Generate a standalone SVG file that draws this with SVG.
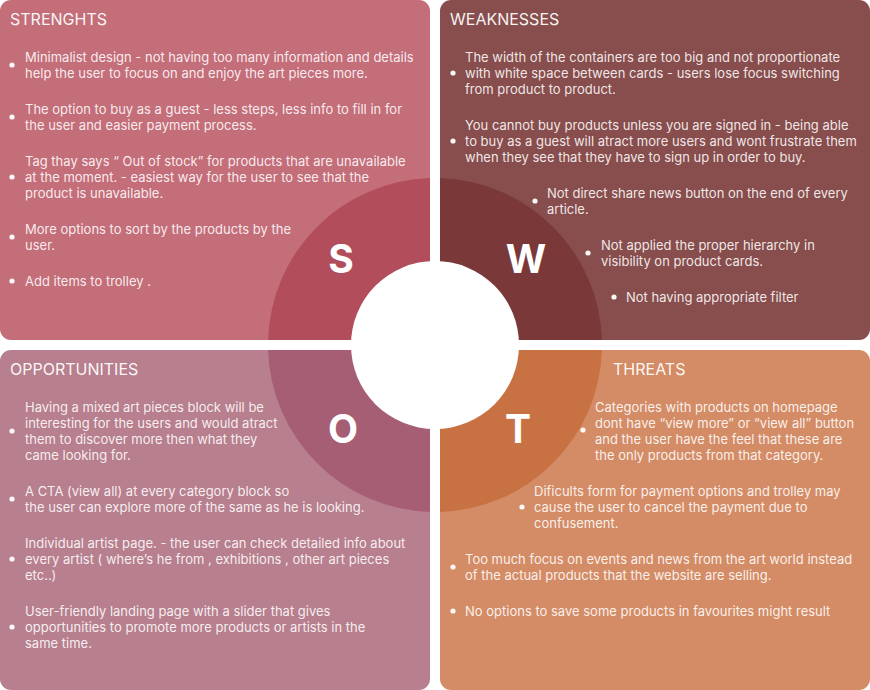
<svg xmlns="http://www.w3.org/2000/svg" width="870" height="690" viewBox="0 0 870 690">
<style>
text{font-family:Inter,"Noto Sans","Liberation Sans",sans-serif;fill:#ffffff;}
.h{font-size:16px;fill-opacity:0.95;}
.t{font-size:13px;fill-opacity:0.88;}
.dot{fill:#ffffff;fill-opacity:0.95;}
.L{font-size:39px;font-weight:700;text-anchor:middle;}
</style>
<rect width="870" height="690" fill="#ffffff"/>
<g id="strengths">
<rect x="0" y="0" width="430" height="340" rx="11" fill="#c46e7a"/>
<path d="M268.08,340 A167,167 0 0 1 430,178.08 L430,340 Z" fill="#b24d5c"/>
<text class="h" x="10" y="25">STRENGHTS</text>
<circle class="dot" cx="12" cy="65" r="2.6"/>
<text class="t" x="25" y="62">Minimalist design - not having too many information and details</text>
<text class="t" x="25" y="78">help the user to focus on and enjoy the art pieces more.</text>
<circle class="dot" cx="12" cy="117" r="2.6"/>
<text class="t" x="25" y="114">The option to buy as a guest - less steps, less info to fill in for</text>
<text class="t" x="25" y="130">the user and easier payment process.</text>
<circle class="dot" cx="12" cy="177" r="2.6"/>
<text class="t" x="25" y="166">Tag thay says “ Out of stock” for products that are unavailable</text>
<text class="t" x="25" y="182">at the moment. - easiest way for the user to see that the</text>
<text class="t" x="25" y="198">product is unavailable.</text>
<circle class="dot" cx="12" cy="237" r="2.6"/>
<text class="t" x="25" y="234">More options to sort by the products by the</text>
<text class="t" x="25" y="250">user.</text>
<circle class="dot" cx="12" cy="281" r="2.6"/>
<text class="t" x="25" y="286">Add items to trolley .</text>
<text class="L" x="341" y="273">S</text>
</g>
<g id="weaknesses">
<rect x="440" y="0" width="430" height="340" rx="11" fill="#884e4d"/>
<path d="M440,178.08 A167,167 0 0 1 601.92,340 L440,340 Z" fill="#7a3838"/>
<text class="h" x="450" y="25">WEAKNESSES</text>
<circle class="dot" cx="453" cy="73" r="2.6"/>
<text class="t" x="465" y="62">The width of the containers are too big and not proportionate</text>
<text class="t" x="465" y="78">with white space between cards - users lose focus switching</text>
<text class="t" x="465" y="94">from product to product.</text>
<circle class="dot" cx="453" cy="141" r="2.6"/>
<text class="t" x="465" y="130">You cannot buy products unless you are signed in - being able</text>
<text class="t" x="465" y="146">to buy as a guest will atract more users and wont frustrate them</text>
<text class="t" x="465" y="162">when they see that they have to sign up in order to buy.</text>
<circle class="dot" cx="535" cy="201" r="2.6"/>
<text class="t" x="547" y="198">Not direct share news button on the end of every</text>
<text class="t" x="547" y="214">article.</text>
<circle class="dot" cx="588" cy="253" r="2.6"/>
<text class="t" x="601" y="250">Not applied the proper hierarchy in</text>
<text class="t" x="601" y="266">visibility on product cards.</text>
<circle class="dot" cx="614" cy="297" r="2.6"/>
<text class="t" x="626" y="302">Not having appropriate filter</text>
<text class="L" x="526" y="273">W</text>
</g>
<g id="opportunities">
<rect x="0" y="350" width="430" height="340" rx="11" fill="#b87f8e"/>
<path d="M430,511.92 A167,167 0 0 1 268.08,350 L430,350 Z" fill="#a65e75"/>
<text class="h" x="10" y="375">OPPORTUNITIES</text>
<circle class="dot" cx="12" cy="431" r="2.6"/>
<text class="t" x="25" y="412">Having a mixed art pieces block will be</text>
<text class="t" x="25" y="428">interesting for the users and would atract</text>
<text class="t" x="25" y="444">them to discover more then what they</text>
<text class="t" x="25" y="460">came looking for.</text>
<circle class="dot" cx="12" cy="499" r="2.6"/>
<text class="t" x="25" y="496">A CTA (view all) at every category block so</text>
<text class="t" x="25" y="512">the user can explore more of the same as he is looking.</text>
<circle class="dot" cx="12" cy="559" r="2.6"/>
<text class="t" x="25" y="548">Individual artist page. - the user can check detailed info about</text>
<text class="t" x="25" y="564">every artist ( where’s he from , exhibitions , other art pieces</text>
<text class="t" x="25" y="580">etc..)</text>
<circle class="dot" cx="12" cy="627" r="2.6"/>
<text class="t" x="25" y="616">User-friendly landing page with a slider that gives</text>
<text class="t" x="25" y="632">opportunities to promote more products or artists in the</text>
<text class="t" x="25" y="648">same time.</text>
<text class="L" x="343" y="443">O</text>
</g>
<g id="threats">
<rect x="440" y="350" width="430" height="340" rx="11" fill="#d48c66"/>
<path d="M601.92,350 A167,167 0 0 1 440,511.92 L440,350 Z" fill="#c87243"/>
<text class="h" x="613" y="375">THREATS</text>
<circle class="dot" cx="583" cy="430" r="2.6"/>
<text class="t" x="595" y="412">Categories with products on homepage</text>
<text class="t" x="595" y="428">dont have “view more” or “view all” button</text>
<text class="t" x="595" y="444">and the user have the feel that these are</text>
<text class="t" x="595" y="460">the only products from that category.</text>
<circle class="dot" cx="522" cy="507" r="2.6"/>
<text class="t" x="534" y="496">Dificults form for payment options and trolley may</text>
<text class="t" x="534" y="512">cause the user to cancel the payment due to</text>
<text class="t" x="534" y="528">confusement.</text>
<circle class="dot" cx="453" cy="567" r="2.6"/>
<text class="t" x="465" y="564">Too much focus on events and news from the art world instead</text>
<text class="t" x="465" y="580">of the actual products that the website are selling.</text>
<circle class="dot" cx="453" cy="611" r="2.6"/>
<text class="t" x="465" y="616">No options to save some products in favourites might result</text>
<text class="L" x="518" y="443">T</text>
</g>
<g id="center">
<circle cx="435" cy="345" r="84" fill="#ffffff"/>
</g>
</svg>
